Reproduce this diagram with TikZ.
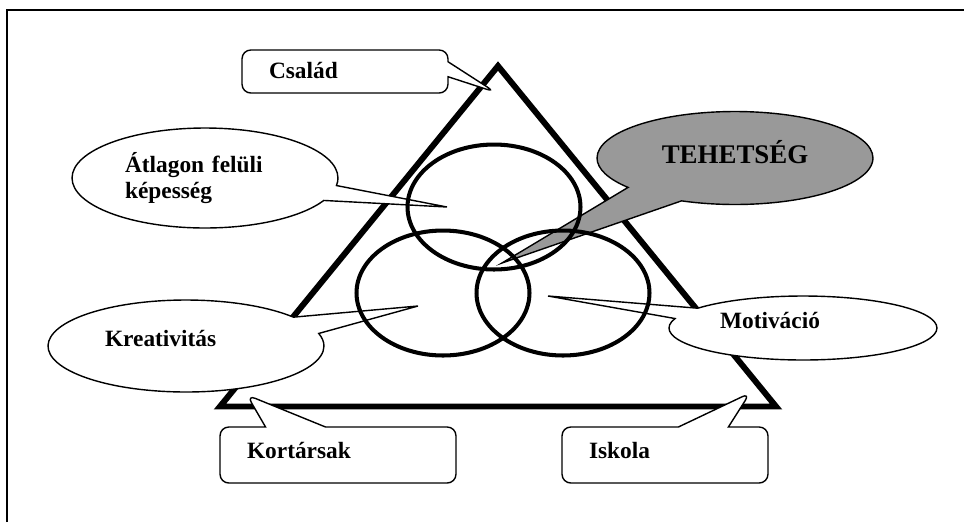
\documentclass[tikz,border=0pt]{standalone}
\usepackage{fontspec}
\setmainfont{Liberation Serif}
\usetikzlibrary{shapes.geometric, shapes.callouts}
\colorlet{tgray}{black!40}
\tikzset{
  lbl/.style={font=\bfseries\fontsize{13.3}{14.8}\selectfont},
  ecall/.style={ellipse callout, draw=black, fill=white, line width=0.8pt,
                lbl, inner sep=2pt, align=left, callout pointer arc=#1},
  ecall/.default=18,
  rcall/.style={rectangle callout, draw=black, fill=white, line width=0.8pt,
                rounded corners=5pt, lbl, align=left, inner xsep=0.54cm,
                inner ysep=0pt, callout pointer width=#1},
  rcall/.default=0.5cm,
  ring/.style={ellipse, draw=black, line width=2.3pt, inner sep=0pt,
               minimum width=3.46cm, minimum height=2.5cm},
  tri/.style={line width=3.4pt, line join=miter},
  frm/.style={line width=1.1pt},
}

\begin{document}
\begin{tikzpicture}[x=0.02cm, y=-0.02cm]
\useasboundingbox (0,0) rectangle (964,522);

%% ============================================================
%% FRAME AND TRIANGLE
%% ============================================================
\coordinate (fBL) at (7,522);
\coordinate (fTL) at (7,10);
\coordinate (fTR) at (964,10);
\draw[frm] (fBL) -- (fTL) -- (fTR);

\coordinate (tA) at (498,66);
\coordinate (tB) at (220,406.5);
\coordinate (tC) at (776,406.5);
\draw[tri] (tA) -- (tB) -- (tC) -- cycle;

%% ============================================================
%% CALLOUTS
%% ============================================================

%% --- corners of the triangle (boxes) ---
\node[rcall=0.3cm, text width=3.04cm, minimum height=0.86cm,
      text height=0.34cm, text depth=0.08cm,
      callout absolute pointer={(495,92)}] (csal) at (345,71.5) {Család};
\node[rcall=1.2cm, text width=3.64cm, minimum height=1.12cm,
      text height=0.34cm, text depth=0.22cm,
      callout absolute pointer={(247,395)}] (kort) at (338,455) {Kortársak};
\node[rcall=1.0cm, text width=3.04cm, minimum height=1.12cm,
      text height=0.34cm, text depth=0.22cm,
      callout absolute pointer={(750,393)}] (isk) at (665,455) {Iskola};

%% --- the three rings (ellipses) ---
\node[ecall=18, text width=3.2cm, minimum width=5.32cm, minimum height=2cm,
      callout absolute pointer={(447,207)}] (atl) at (205,178)
  {Átlagon felüli\\képesség};
\node[ecall=23, text width=3.24cm, minimum width=5.52cm, minimum height=1.84cm,
      text height=0.3cm, text depth=0.3cm,
      callout absolute pointer={(418,306)}] (kre) at (186,346) {Kreativitás};
\node[ecall=21, text width=3.32cm, minimum width=5.36cm, minimum height=1.28cm,
      text height=0.3cm, text depth=0.3cm,
      callout absolute pointer={(548,296)}] (mot) at (803,328) {Motiváció};

%% --- centre ---
\node[ecall=28, fill=tgray, font=\bfseries\fontsize{15.3}{17}\selectfont,
      align=center, minimum width=5.52cm, minimum height=1.86cm,
      text height=0.5cm, text depth=0.3cm,
      callout absolute pointer={(502,263)}] (teh) at (735,158) {TEHETSÉG};

%% ============================================================
%% RINGS
%% ============================================================
\node[ring] (cTop)   at (494,207) {};
\node[ring] (cLeft)  at (443,293) {};
\node[ring] (cRight) at (563,293) {};

\end{tikzpicture}
\end{document}
